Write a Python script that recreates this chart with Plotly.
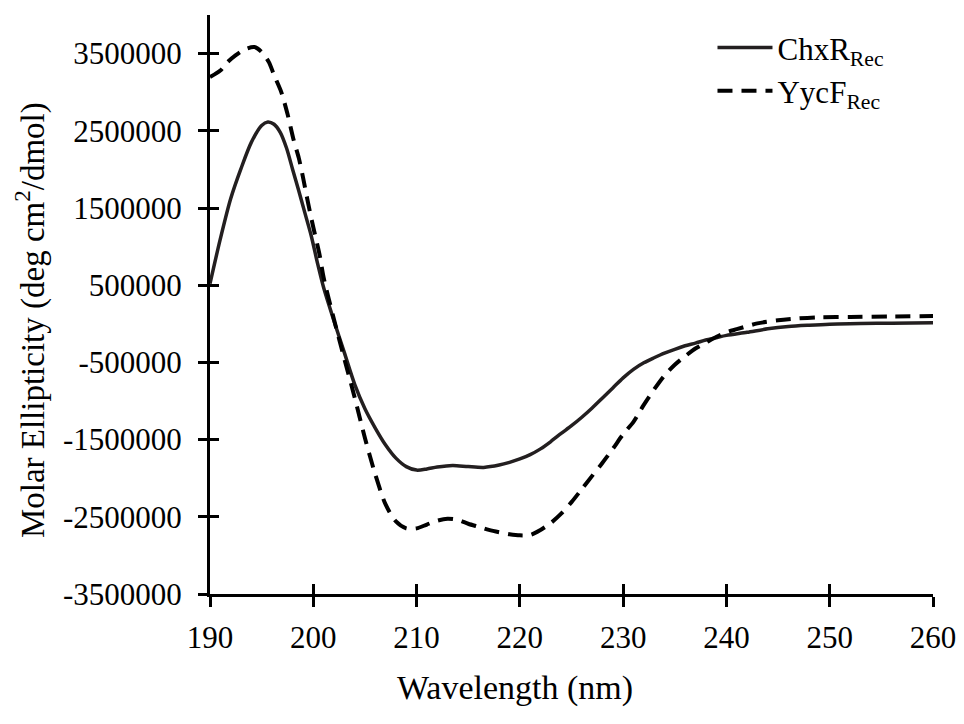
import plotly.graph_objects as go

# ChxR_Rec (solid)
chxr_nm = [190, 191, 192, 193, 194, 195, 195.6, 196.2, 196.8, 197.4, 198, 198.6, 199.2, 199.8, 200.4,
           201, 202, 203, 204, 205, 206, 207, 208, 209, 210, 211, 212, 213.5, 215, 216.5, 218, 219,
           220, 221, 222, 223, 224, 225, 226, 227, 228, 229, 230, 231, 232, 233, 234, 235, 236, 237,
           238, 239, 240, 242, 244, 246, 248, 250, 253, 256, 260]
chxr_val = [520000, 1100000, 1620000, 2010000, 2350000, 2570000, 2615000, 2585000, 2480000, 2280000,
            2000000, 1720000, 1430000, 1140000, 790000, 470000, 40000, -370000, -780000, -1100000,
            -1350000, -1570000, -1740000, -1850000, -1895000, -1880000, -1855000, -1835000, -1850000,
            -1860000, -1830000, -1795000, -1750000, -1695000, -1620000, -1525000, -1420000, -1320000,
            -1210000, -1090000, -960000, -830000, -700000, -590000, -505000, -440000, -380000, -330000,
            -285000, -250000, -210000, -180000, -150000, -110000, -65000, -35000, -18000, -5000, 3000,
            8000, 15000]

# YycF_Rec (dashed)
yycf_nm = [190, 191, 191.7, 192.5, 193.3, 194.3, 195, 195.7, 196.2, 196.9, 197.5, 198.1, 198.6, 199,
           199.5, 200, 200.6, 201, 202, 203, 204, 205, 206, 207, 208, 209, 210, 211, 212, 213, 214,
           215, 216, 217, 218, 219, 220, 221, 222, 223, 224, 225, 226, 227, 228, 229, 230, 231, 232,
           233, 234, 235, 236, 237, 238, 239, 240, 241, 243, 245, 247, 249, 252, 256, 260]
yycf_val = [3196000, 3280000, 3390000, 3480000, 3550000, 3585000, 3520000, 3390000, 3222000, 3002000,
            2720000, 2380000, 2146000, 1900000, 1563000, 1250000, 900000, 600000, 60000, -450000,
            -950000, -1480000, -1950000, -2340000, -2560000, -2650000, -2650000, -2600000, -2550000,
            -2525000, -2540000, -2590000, -2630000, -2670000, -2700000, -2725000, -2740000, -2735000,
            -2670000, -2580000, -2460000, -2310000, -2140000, -1970000, -1800000, -1620000, -1430000,
            -1270000, -1050000, -850000, -670000, -530000, -420000, -320000, -245000, -170000, -110000,
            -70000, 5000, 45000, 70000, 85000, 88000, 95000, 100000]

x_ticks = [190, 200, 210, 220, 230, 240, 250, 260]
y_ticks = [3500000, 2500000, 1500000, 500000, -500000, -1500000, -2500000, -3500000]

x_title = "Wavelength (nm)"
y_title = "Molar Ellipticity (deg cm<sup>2</sup>/dmol)"

FONT = "Liberation Serif"

fig = go.Figure()
fig.add_trace(go.Scatter(x=chxr_nm, y=chxr_val, mode="lines", name="ChxR<sub>Rec</sub>",
                         line=dict(color="#231f20", width=3.5, shape="spline", smoothing=0.8)))
fig.add_trace(go.Scatter(x=yycf_nm, y=yycf_val, mode="lines", name="YycF<sub>Rec</sub>",
                         line=dict(color="#000000", width=4, dash="15px,9px", shape="spline", smoothing=0.8)))
# invisible trace to host the inner-tick overlay axes
fig.add_trace(go.Scatter(x=[190, 260], y=[-3500000, 4000000], mode="lines", xaxis="x2", yaxis="y2",
                         line=dict(width=0), showlegend=False, hoverinfo="skip"))

axis_common = dict(showgrid=False, zeroline=False, linecolor="black", tickcolor="black",
                   tickfont=dict(family=FONT, size=31, color="black"))

fig.update_layout(
    width=948, height=708,
    margin=dict(l=202, r=23, t=7, b=122, autoexpand=False),
    paper_bgcolor="white", plot_bgcolor="white",
    font=dict(family=FONT, color="black"),
    xaxis=dict(range=[190, 260], tickvals=x_ticks, ticktext=[str(v) for v in x_ticks],
               showline=True, linewidth=3, ticks="outside", ticklen=10, tickwidth=3,
               ticklabelstandoff=4, automargin=False, ticklabeloverflow="allow",
               **axis_common),
    yaxis=dict(range=[-3500000, 4000000], tickvals=y_ticks, ticktext=[str(v) for v in y_ticks],
               showline=True, linewidth=3, ticks="outside", ticklen=9, tickwidth=3,
               ticklabelstandoff=10, automargin=False, ticklabeloverflow="allow",
               **axis_common),
    xaxis2=dict(overlaying="x", matches="x", anchor="y", side="bottom", range=[190, 260],
                tickvals=x_ticks, showticklabels=False, ticks="inside", ticklen=10, tickwidth=3,
                tickcolor="black", showline=False, showgrid=False, zeroline=False),
    yaxis2=dict(overlaying="y", matches="y", anchor="x", side="left", range=[-3500000, 4000000],
                tickvals=y_ticks, showticklabels=False, ticks="inside", ticklen=9, tickwidth=3,
                tickcolor="black", showline=False, showgrid=False, zeroline=False),
    legend=dict(x=0.695, y=0.99, xanchor="left", yanchor="top", bgcolor="rgba(0,0,0,0)",
                font=dict(family=FONT, size=31, color="black"), itemwidth=55, tracegroupgap=0),
    showlegend=True,
    annotations=[
        dict(text=x_title, xref="paper", yref="paper", x=0.422, y=-0.162, xanchor="center",
             yanchor="middle", showarrow=False, font=dict(family=FONT, size=34, color="black")),
        dict(text=y_title, xref="paper", yref="paper", x=-0.249, y=0.473, xanchor="center",
             yanchor="middle", textangle=-90, showarrow=False,
             font=dict(family=FONT, size=33, color="black")),
    ],
)

fig.write_html("out.html")
